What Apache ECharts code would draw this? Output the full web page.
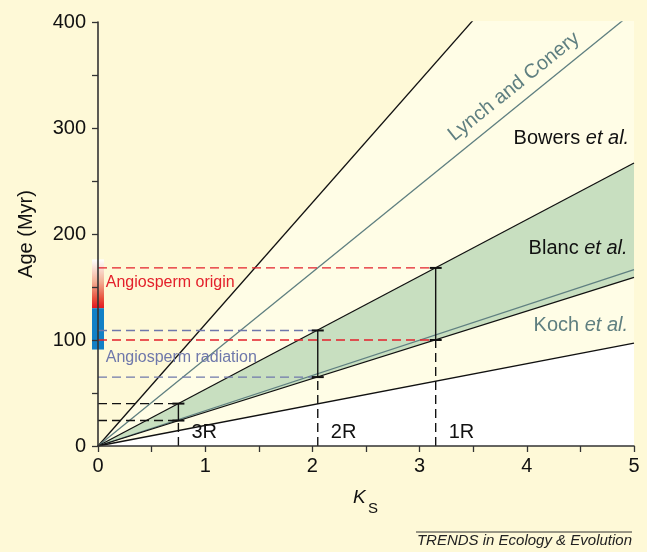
<!DOCTYPE html>
<html>
<head>
<meta charset="utf-8">
<script src="https://cdn.jsdelivr.net/npm/echarts@6/dist/echarts.min.js"></script>
<style>
html,body{margin:0;padding:0;background:#fef9d7;}
#chart{width:647px;height:552px;}
</style>
</head>
<body>
<div id="chart"></div>
<script>
// ---- data ----
const ksEnds = [0, 5];                 // Ks at the two ends of each rate line
const steepLine = [0, 574];            // Age (Myr) at Ks = 0 and Ks = 5
const lynchConery = [0, 410];
const blancUpper = [0, 267];
const kochLine = [0, 166.5];
const blancLower = [0, 159];
const lowestLine = [0, 97];

const dupLabels = ['3R', '2R', '1R'];
const dupKs = [0.75, 2.05, 3.15];
const dupAgeLow = [24, 65, 100];
const dupAgeHigh = [40, 109, 168];

const originRange = [176, 130];        // Angiosperm origin bar (top, bottom)
const radiationRange = [130, 91];      // Angiosperm radiation bar (top, bottom)

const xTickLabels = [0, 1, 2, 3, 4, 5];
const yTickLabels = [0, 100, 200, 300, 400];

// ---- chart ----
const chart = echarts.init(document.getElementById('chart'), null, {renderer: 'canvas'});
const FONT = '"Liberation Sans", Arial, sans-serif';
const BLACK = '#111111';
const GREY = '#5f7f80';
const RED = '#e3202b';
const BLUE = '#6f78ab';

function rateLine(ages) { return ksEnds.map((k, i) => [k, ages[i]]); }

function wedge(ages, color, z) {
  return {type: 'line', data: rateLine(ages), symbol: 'none', silent: true,
    lineStyle: {opacity: 0}, areaStyle: {color: color, opacity: 1, origin: 'start'}, z: z};
}
function line(ages, color, w) {
  return {type: 'line', data: rateLine(ages), symbol: 'none', silent: true,
    lineStyle: {color: color, width: w}, z: 3};
}
function seg(pts, color, dashed) {
  return {type: 'line', data: pts, symbol: 'none', silent: true,
    lineStyle: {color: color, width: 1.4, type: dashed ? [9, 5] : 'solid'}, z: 4};
}

const series = [
  wedge(steepLine, '#fffde6', 1),
  wedge(blancUpper, '#c8dfc0', 1),
  wedge(blancLower, '#fffde6', 1),
  wedge(lowestLine, '#ffffff', 1),
  line(steepLine, BLACK, 1.3),
  line(lynchConery, GREY, 1.3),
  line(blancUpper, BLACK, 1.3),
  line(kochLine, GREY, 1.3),
  line(blancLower, BLACK, 1.3),
  line(lowestLine, BLACK, 1.3)
];

const dashColors = [BLACK, BLUE, RED];
dupKs.forEach((k, i) => {
  series.push(seg([[0, dupAgeLow[i]], [k, dupAgeLow[i]]], dashColors[i], true));
  series.push(seg([[0, dupAgeHigh[i]], [k, dupAgeHigh[i]]], dashColors[i], true));
  series.push(seg([[k, 0], [k, dupAgeLow[i]]], BLACK, true));
  series.push(seg([[k, dupAgeLow[i]], [k, dupAgeHigh[i]]], BLACK, false));
});
// error bar caps
series.push({type: 'scatter', silent: true, symbol: 'rect', symbolSize: [12, 2],
  itemStyle: {color: BLACK, opacity: 1}, z: 5,
  data: dupKs.flatMap((k, i) => [[k, dupAgeLow[i]], [k, dupAgeHigh[i]]])});

// duplication labels
series.push({type: 'scatter', silent: true, symbolSize: 0, z: 6,
  itemStyle: {opacity: 1},
  data: dupKs.map((k, i) => ({value: [k, 0], name: dupLabels[i]})),
  label: {show: true, formatter: p => p.name, position: [13, -14], align: 'left',
    verticalAlign: 'middle', fontFamily: FONT, fontSize: 20, color: BLACK, opacity: 1}});

// colour bar at Ks = 0
series.push({type: 'custom', clip: false, silent: true, z: 2,
  data: [[0, originRange[0], originRange[1], 0], [0, radiationRange[0], radiationRange[1], 1]],
  renderItem: function (params, api) {
    const top = api.coord([api.value(0), api.value(1)]);
    const bot = api.coord([api.value(0), api.value(2)]);
    const fill = api.value(3) === 0
      ? new echarts.graphic.LinearGradient(0, 0, 0, 1, [
          {offset: 0, color: '#ffffff'}, {offset: 0.45, color: '#f3b196'},
          {offset: 0.8, color: '#e8503c'}, {offset: 1, color: '#e3161f'}])
      : '#1180c6';
    return {type: 'rect', shape: {x: top[0] - 6, y: top[1], width: 12, height: bot[1] - top[1]},
      style: {fill: fill}};
  }});

// text annotations
function textPoint(x, y, fmt, opts) {
  return {type: 'scatter', silent: true, symbolSize: 0, z: 7,
    itemStyle: {opacity: 1},
    data: [[x, y]],
    label: Object.assign({show: true, formatter: fmt, position: [0, 0], verticalAlign: 'middle',
      fontFamily: FONT, fontSize: 20, opacity: 1}, opts)};
}
function ital(color) {
  return {i: {fontStyle: 'italic', fontFamily: FONT, fontSize: 20, color: color}};
}
series.push(textPoint(3.88, 339, 'Lynch and Conery', {align: 'center', rotate: 38.7, color: GREY}));
series.push(textPoint(4.955, 290, 'Bowers {i|et al.}', {align: 'right', color: BLACK, rich: ital(BLACK)}));
series.push(textPoint(4.94, 186.5, 'Blanc {i|et al.}', {align: 'right', color: BLACK, rich: ital(BLACK)}));
series.push(textPoint(4.945, 114, 'Koch {i|et al.}', {align: 'right', color: GREY, rich: ital(GREY)}));
series.push(textPoint(0.072, 153.7, 'Angiosperm origin', {align: 'left', color: RED, fontSize: 16}));
series.push(textPoint(0.072, 83.8, 'Angiosperm radiation', {align: 'left', color: BLUE, fontSize: 16}));

const option = {
  backgroundColor: '#fef9d7',
  animation: false,
  grid: {left: 98, top: 22, width: 536, height: 424, containLabel: false},
  xAxis: {
    type: 'value', min: 0, max: 5, interval: 0.5, z: 8,
    axisLine: {show: true, lineStyle: {color: '#333', width: 1.6}},
    axisTick: {show: true, length: 6, lineStyle: {color: '#333', width: 1.3}},
    axisLabel: {margin: 10, fontFamily: FONT, fontSize: 20, color: BLACK,
      formatter: v => xTickLabels.indexOf(v) >= 0 ? String(v) : ''},
    splitLine: {show: false}
  },
  yAxis: {
    type: 'value', min: 0, max: 400, interval: 50, z: 8,
    name: 'Age (Myr)', nameLocation: 'middle', nameGap: 62,
    nameTextStyle: {fontFamily: FONT, fontSize: 20, color: BLACK},
    axisLine: {show: true, lineStyle: {color: '#333', width: 1.6}},
    axisTick: {show: true, length: 6, lineStyle: {color: '#333', width: 1.3}},
    axisLabel: {margin: 12, fontFamily: FONT, fontSize: 20, color: BLACK,
      formatter: v => yTickLabels.indexOf(v) >= 0 ? String(v) : ''},
    splitLine: {show: false}
  },
  graphic: [
    {type: 'text', left: 353, top: 488, style: {text: 'K', font: 'italic 19px ' + FONT, fill: BLACK}},
    {type: 'text', left: 368, top: 501, style: {text: 'S', font: '15px ' + FONT, fill: BLACK}},
    {type: 'line', shape: {x1: 416, y1: 532, x2: 632, y2: 532}, style: {stroke: '#333', lineWidth: 1}},
    {type: 'text', right: 15, top: 533, style: {text: 'TRENDS in Ecology & Evolution',
      font: 'italic 15px ' + FONT, fill: '#222'}}
  ],
  series: series
};
chart.setOption(option);
</script>
</body>
</html>
